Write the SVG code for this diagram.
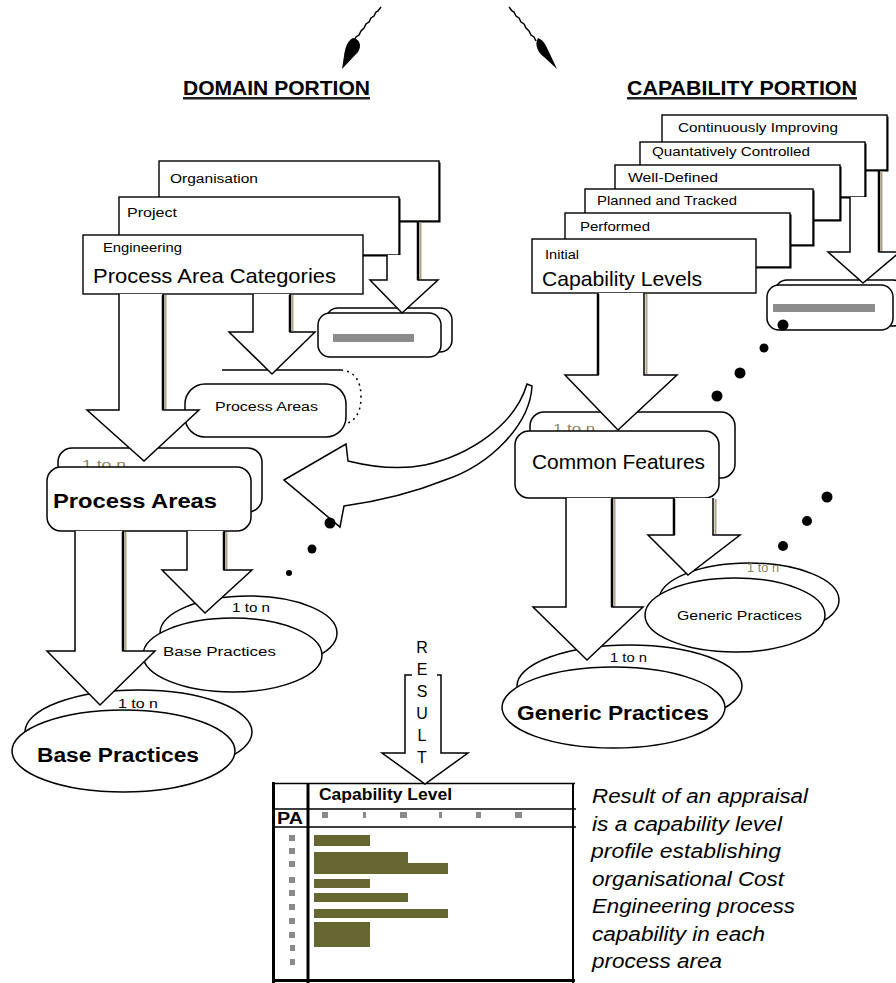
<svg xmlns="http://www.w3.org/2000/svg" width="896" height="983" viewBox="0 0 896 983">
<style>
text{font-family:"Liberation Sans",Arial,Helvetica,sans-serif;fill:#000}
.s{font-size:12px}
.m{font-size:21px}
.b{font-weight:bold;font-size:20px}
.hd{font-weight:bold;font-size:21px}
.kt{fill:#8c8262}
.bx{fill:#fff;stroke:#000;stroke-width:1.4}
.sh{fill:#000}
.rr{fill:#fff;stroke:#000;stroke-width:1.5}
.el{fill:#fff;stroke:#000;stroke-width:1.5}
.bar{fill:#8c8c8c}
.arr{fill:#fff;stroke:#000;stroke-width:1.5;stroke-linejoin:miter}
.af{fill:#fff}
.as{fill:none;stroke:#000;stroke-width:1.5}
.kh{stroke:#ada586;stroke-width:2;fill:none}
.tk{stroke:#000;stroke-width:2.5;fill:none}
.dot{fill:#000}
.ol{fill:#666633}
.gs{fill:#8a8a8a}
.it{font-style:italic;font-size:19.5px}
.ln{stroke:#000;fill:none}
</style>
<rect width="896" height="983" fill="#fff"/>

<g id="domain-portion-title">
<text class="hd" x="183" y="95" textLength="187" lengthAdjust="spacingAndGlyphs">DOMAIN PORTION</text>
<rect x="183" y="97" width="187" height="2.5" fill="#222"/>
</g>
<g id="capability-portion-title">
<text class="hd" x="627" y="95" textLength="230" lengthAdjust="spacingAndGlyphs">CAPABILITY PORTION</text>
<rect x="627" y="97" width="230" height="2.5" fill="#222"/>
</g>

<g id="domain-stack">
<rect class="sh" x="160.5" y="162.5" width="280" height="60"/>
<rect class="bx" x="159" y="161" width="280" height="60"/>
<text class="s" x="170" y="183" textLength="88" lengthAdjust="spacingAndGlyphs">Organisation</text>
<rect class="sh" x="120.5" y="198.5" width="280" height="58"/>
<rect class="bx" x="119" y="197" width="280" height="58"/>
<text class="s" x="127" y="217" textLength="50" lengthAdjust="spacingAndGlyphs">Project</text>
<rect class="bx" x="83" y="235" width="280" height="59" stroke-width="2.5"/>
<text class="s" x="103" y="252" textLength="79" lengthAdjust="spacingAndGlyphs">Engineering</text>
<text class="m" x="93" y="283" textLength="243" lengthAdjust="spacingAndGlyphs">Process Area Categories</text>
</g>

<g id="domain-collapsed-box">
<rect class="rr" x="326" y="308" width="126" height="44" rx="12"/>
<rect class="rr" x="318" y="313" width="123" height="44" rx="12"/>
<rect class="bar" x="333" y="334" width="81" height="8"/>
</g>

<g id="small-process-areas">
<rect x="210" y="370" width="151" height="55" rx="20" fill="#fff"/>
<path class="ln" stroke-width="1.5" d="M222,370 H341"/>
<path class="ln" stroke-width="1.5" stroke-dasharray="2,4" d="M341,370 Q361,372 361,397 Q361,422 341,425"/>
<rect class="rr" x="185" y="384" width="161" height="53" rx="20"/>
<text class="s" x="215" y="411" textLength="103" lengthAdjust="spacingAndGlyphs">Process Areas</text>
</g>

<g id="process-areas">
<rect class="rr" x="58" y="448" width="204" height="64" rx="14"/>
<text class="s kt" x="82" y="469" textLength="44" lengthAdjust="spacingAndGlyphs">1 to n</text>
<rect class="rr" x="47" y="467" width="204" height="64" rx="14"/>
<text class="b" x="53" y="508" textLength="164" lengthAdjust="spacingAndGlyphs">Process Areas</text>
</g>

<g id="small-base-practices">
<ellipse class="el" cx="248.5" cy="633" rx="88.5" ry="37"/>
<text class="s" x="232" y="612" textLength="38" lengthAdjust="spacingAndGlyphs">1 to n</text>
<ellipse class="el" cx="232.5" cy="655" rx="89.5" ry="37"/>
<text class="s" x="163" y="656" textLength="113" lengthAdjust="spacingAndGlyphs">Base Practices</text>
</g>

<g id="base-practices">
<ellipse class="el" cx="138.5" cy="732" rx="113.5" ry="42"/>
<text class="s" x="118" y="708" textLength="40" lengthAdjust="spacingAndGlyphs">1 to n</text>
<ellipse class="el" cx="123.5" cy="751" rx="111.5" ry="41"/>
<text class="b" x="37" y="762" textLength="162" lengthAdjust="spacingAndGlyphs">Base Practices</text>
</g>

<g id="capability-stack">
<rect class="sh" x="663.5" y="116.5" width="225" height="55"/>
<rect class="bx" x="662" y="115" width="225" height="55"/>
<text class="s" x="678" y="132" textLength="160" lengthAdjust="spacingAndGlyphs">Continuously Improving</text>
<rect class="sh" x="641.5" y="143.5" width="225" height="55"/>
<rect class="bx" x="640" y="142" width="225" height="55"/>
<text class="s" x="652" y="156" textLength="158" lengthAdjust="spacingAndGlyphs">Quantatively Controlled</text>
<rect class="sh" x="616.5" y="166.5" width="225" height="55"/>
<rect class="bx" x="615" y="165" width="225" height="55"/>
<text class="s" x="628" y="182" textLength="90" lengthAdjust="spacingAndGlyphs">Well-Defined</text>
<rect class="sh" x="586.5" y="190.5" width="228" height="56"/>
<rect class="bx" x="585" y="189" width="228" height="56"/>
<text class="s" x="597" y="205" textLength="140" lengthAdjust="spacingAndGlyphs">Planned and Tracked</text>
<rect class="sh" x="566.5" y="214.5" width="225" height="54"/>
<rect class="bx" x="565" y="213" width="225" height="54"/>
<text class="s" x="580" y="231" textLength="70" lengthAdjust="spacingAndGlyphs">Performed</text>
<rect class="bx" x="532" y="239" width="224" height="54" stroke-width="2.2"/>
<text class="s" x="545" y="259" textLength="34" lengthAdjust="spacingAndGlyphs">Initial</text>
<text class="m" x="542" y="286" textLength="160" lengthAdjust="spacingAndGlyphs">Capability Levels</text>
</g>

<g id="capability-collapsed-box">
<rect class="rr" x="775" y="280" width="130" height="46" rx="12"/>
<rect class="rr" x="767" y="285" width="126" height="45" rx="12" stroke-width="2"/>
<rect class="bar" x="773" y="304" width="102" height="8"/>
</g>

<g id="common-features">
<rect class="rr" x="530" y="412" width="205" height="66" rx="14"/>
<text class="s kt" x="553" y="433" textLength="42" lengthAdjust="spacingAndGlyphs">1 to n</text>
<rect class="rr" x="515" y="431" width="204" height="67" rx="14"/>
<text class="m" x="532" y="469" textLength="173" lengthAdjust="spacingAndGlyphs">Common Features</text>
</g>

<g id="small-generic-practices">
<ellipse class="el" cx="749" cy="600" rx="90" ry="37"/>
<text class="s kt" x="747" y="572" textLength="32" lengthAdjust="spacingAndGlyphs">1 to n</text>
<ellipse class="el" cx="735" cy="615" rx="90" ry="37"/>
<text class="s" x="677" y="620" textLength="125" lengthAdjust="spacingAndGlyphs">Generic Practices</text>
</g>

<g id="generic-practices">
<ellipse class="el" cx="629.5" cy="686" rx="112.5" ry="41"/>
<text class="s" x="610" y="662" textLength="37" lengthAdjust="spacingAndGlyphs">1 to n</text>
<ellipse class="el" cx="613.5" cy="707.5" rx="111.5" ry="40.5"/>
<text class="b" x="517" y="720" textLength="192" lengthAdjust="spacingAndGlyphs">Generic Practices</text>
</g>

<g id="capability-profile">
<rect x="273" y="783" width="300" height="197" fill="#fff"/>
<path class="ln" stroke-width="3" d="M273.5,782 V983 M308,783 V983 M272,980.5 H575"/>
<path class="ln" stroke-width="1.5" d="M272,783.5 H575 M273,809 H576 M273,827 H576"/>
<path class="ln" stroke-width="2" d="M573,783 V983"/>
<text x="319" y="800" font-weight="bold" font-size="16" fill="#3f3d22" textLength="133" lengthAdjust="spacingAndGlyphs">Capability Level</text>
<text x="277" y="824" font-weight="bold" font-size="16" textLength="26" lengthAdjust="spacingAndGlyphs">PA</text>
<rect class="gs" x="322" y="812" width="6" height="6"/>
<rect class="gs" x="363" y="812" width="3" height="6"/>
<rect class="gs" x="400" y="812" width="7" height="6"/>
<rect class="gs" x="439" y="812" width="3" height="6"/>
<rect class="gs" x="476" y="812" width="5" height="6"/>
<rect class="gs" x="515" y="812" width="7" height="6"/>
<rect class="gs" x="289" y="835" width="6" height="6"/>
<rect class="gs" x="289" y="848" width="6" height="6"/>
<rect class="gs" x="289" y="861" width="6" height="6"/>
<rect class="gs" x="289" y="877" width="6" height="6"/>
<rect class="gs" x="289" y="890" width="6" height="6"/>
<rect class="gs" x="289" y="904" width="6" height="6"/>
<rect class="gs" x="289" y="918" width="6" height="6"/>
<rect class="gs" x="289" y="932" width="6" height="6"/>
<rect class="gs" x="290" y="945" width="5" height="6"/>
<rect class="gs" x="290" y="959" width="5" height="6"/>
<rect class="ol" x="314" y="835" width="56" height="11"/>
<rect class="ol" x="314" y="852" width="94" height="11"/>
<rect class="ol" x="314" y="863" width="134" height="11"/>
<rect class="ol" x="314" y="879" width="56" height="9"/>
<rect class="ol" x="314" y="893" width="94" height="9"/>
<rect class="ol" x="314" y="909" width="134" height="9"/>
<rect class="ol" x="314" y="922" width="56" height="25"/>
</g>

<g id="result-note">
<text class="it" x="592" y="803" textLength="216" lengthAdjust="spacingAndGlyphs">Result of an appraisal</text>
<text class="it" x="592" y="831" textLength="190" lengthAdjust="spacingAndGlyphs">is a capability level</text>
<text class="it" x="591" y="858" textLength="190" lengthAdjust="spacingAndGlyphs">profile establishing</text>
<text class="it" x="592" y="886" textLength="192" lengthAdjust="spacingAndGlyphs">organisational Cost</text>
<text class="it" x="592" y="913" textLength="203" lengthAdjust="spacingAndGlyphs">Engineering process</text>
<text class="it" x="592" y="941" textLength="173" lengthAdjust="spacingAndGlyphs">capability in each</text>
<text class="it" x="592" y="968" textLength="130" lengthAdjust="spacingAndGlyphs">process area</text>
</g>

<g id="connectors">
<path class="as" stroke-width="1.2" d="M381,7 l-3,4 -2,1 -2,4 -3,2 -2,4 -3,2 -2,4 -3,3 -2,4 -3,2 -2,4"/>
<path fill="#000" d="M353,38 C360,39 362,46 358,52 L342,69 L344,56 C345,47 348,40 353,38 Z"/>
<path class="as" stroke-width="1.2" d="M509,7 l3,4 2,1 2,4 3,2 2,4 3,2 2,4 3,3 2,4 3,2 2,4"/>
<path fill="#000" d="M538,38 C544,40 546,46 549,52 L557,69 L544,57 C538,53 534,44 538,38 Z"/>

<path class="af" d="M387,255 V280 H370 L402,313 L438,280 H418 V255 Z"/>
<path class="as" d="M387,255 V280 H370 L402,313 L438,280 H418 V221"/>
<path class="tk" d="M418,222 V280"/>
<path class="kh" d="M420.5,222 V279"/>

<path class="arr" d="M119,294 V410 H87 L144,461 L199,410 H163 V294"/>
<path class="tk" d="M163,295 V410"/>
<path class="kh" d="M165.5,295 V409"/>
<path class="arr" d="M253,294 V332 H229 L272,374 L315,332 H290 V294"/>
<path class="tk" d="M290,295 V332"/>
<path class="kh" d="M292.5,295 V331"/>

<path class="arr" d="M75,531 V651 H47 L100,705 L155,651 H123 V531"/>
<path class="tk" d="M123,532 V651"/>
<path class="kh" d="M125.5,532 V650"/>
<path class="arr" d="M187,531 V570 H162 L205,613 L252,570 H224 V531"/>
<path class="tk" d="M224,532 V570"/>
<path class="kh" d="M226.5,532 V569"/>

<path class="af" d="M850,197 V252 H828 L863,283 L900,252 H879 V197 Z"/>
<path class="as" d="M850,197 V252 H828 L863,283 L900,252 H879 V170"/>
<path class="tk" d="M879,171 V252"/>
<path class="kh" d="M881.5,171 V251"/>

<path class="arr" d="M598,293 V375 H565 L618,430 L677,375 H644 V293"/>
<path class="tk" d="M598,294 V375"/>
<path class="kh" d="M646.5,294 V374"/>
<path class="arr" d="M566,498 V607 H533 L587,660 L643,607 H612 V498"/>
<path class="tk" d="M612,499 V607"/>
<path class="kh" d="M614.5,499 V606"/>
<path class="arr" d="M674,498 V535 H648 L688,575 L740,535 H713 V498"/>
<path class="tk" d="M674,499 V535"/>
<path class="kh" d="M715.5,499 V534"/>

<path class="arr" d="M284,480 L346,444 L348,461 C372,467 400,470 425,465 C470,455 515,425 527,384 L532,386 C530,425 490,465 445,480 C415,492 380,501 344,506 L340,527 Z"/>

<path class="arr" d="M412,675 H405 V753 H382 L425,784 L468,753 H441 V675 H437"/>
<g font-size="16" text-anchor="middle">
<text x="422" y="653">R</text>
<text x="422" y="675">E</text>
<text x="422" y="697">S</text>
<text x="422" y="719">U</text>
<text x="422" y="741">L</text>
<text x="422" y="763">T</text>
</g>
</g>

<g id="continuation-dots">
<circle class="dot" cx="330" cy="523" r="5.5"/>
<circle class="dot" cx="312" cy="549" r="4.5"/>
<circle class="dot" cx="289" cy="573" r="3"/>
<circle class="dot" cx="783" cy="325" r="5.5"/>
<circle class="dot" cx="764" cy="348" r="4.5"/>
<circle class="dot" cx="740" cy="373" r="5.5"/>
<circle class="dot" cx="717" cy="396" r="5.5"/>
<circle class="dot" cx="827" cy="497" r="5.5"/>
<circle class="dot" cx="807" cy="521" r="5"/>
<circle class="dot" cx="783" cy="546" r="5"/>
</g>
</svg>
